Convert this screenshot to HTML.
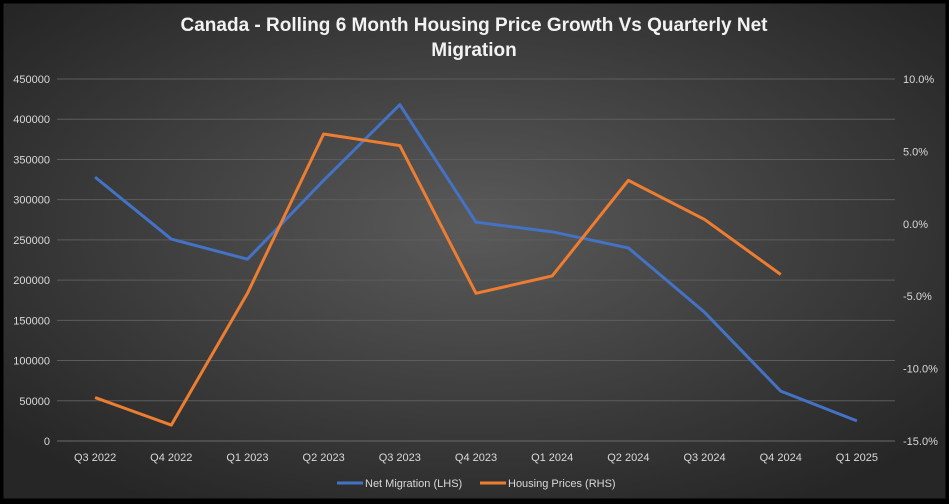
<!DOCTYPE html>
<html><head><meta charset="utf-8"><style>
html,body{margin:0;padding:0;background:#000;}
#wrap{width:949px;height:504px;position:relative;overflow:hidden;}
svg{display:block;font-family:"Liberation Sans",sans-serif;}
</style></head><body>
<div id="wrap">
<svg id="chart" width="949" height="504">
<defs>
<radialGradient id="bg" cx="50%" cy="45%" r="65%">
<stop offset="0%" stop-color="#5a5a5a"/><stop offset="100%" stop-color="#262626"/>
</radialGradient>
</defs>
<rect x="2" y="2" width="945" height="498" fill="url(#bg)" stroke="#000" stroke-width="3"/>
<text x="474" y="31" text-anchor="middle" fill="#f2f2f2" font-size="19" font-weight="bold">Canada - Rolling 6 Month Housing Price Growth Vs Quarterly Net</text>
<text x="474" y="56" text-anchor="middle" fill="#f2f2f2" font-size="19" font-weight="bold">Migration</text>
<g id="grid"></g><g id="axes"></g><g id="series"></g>
<g>
<line x1="337" y1="483" x2="363" y2="483" stroke="#4472c4" stroke-width="3"/>
<text x="365" y="487" fill="#d9d9d9" font-size="11">Net Migration (LHS)</text>
<line x1="480" y1="483" x2="506" y2="483" stroke="#ed7d31" stroke-width="3"/>
<text x="508" y="487" fill="#d9d9d9" font-size="11">Housing Prices (RHS)</text>
</g>
</svg>
</div>
<script>
const categories=["Q3 2022","Q4 2022","Q1 2023","Q2 2023","Q3 2023","Q4 2023","Q1 2024","Q2 2024","Q3 2024","Q4 2024","Q1 2025"];
const netMigration=[328000,251000,226000,324000,418000,272000,260000,240000,160000,62000,25000];
const housingPrices=[-12.0,-13.9,-4.8,6.2,5.4,-4.8,-3.6,3.0,0.3,-3.5];
const leftTicks=[0,50000,100000,150000,200000,250000,300000,350000,400000,450000];
const rightTicks=[-15,-10,-5,0,5,10];
const NS="http://www.w3.org/2000/svg";
const plotL=57,plotR=895,plotT=79,plotB=441;
const band=(plotR-plotL)/categories.length;
function xPos(i){return plotL+band*(i+0.5);}
function yL(v){return plotB-(v/450000)*(plotB-plotT);}
function yR(v){return plotB-((v+15)/25)*(plotB-plotT);}
function mk(tag,attrs,parent,txt){const e=document.createElementNS(NS,tag);for(const k in attrs)e.setAttribute(k,attrs[k]);if(txt!==undefined)e.textContent=txt;parent.appendChild(e);return e;}
const grid=document.getElementById('grid'),axes=document.getElementById('axes'),series=document.getElementById('series');
leftTicks.forEach(v=>{
 const g=mk('line',{x1:plotL,x2:plotR,y1:yL(v),y2:yL(v),stroke:v===0?'#6a6a6a':'#5c5c5c','stroke-width':1},grid);
 
 
 const t=mk('text',{x:50,y:yL(v)+4,'text-anchor':'end',fill:'#d9d9d9','font-size':11},axes,String(v));
 
 
});
rightTicks.forEach(v=>{
 const t=mk('text',{x:903,y:yR(v)+4,fill:'#d9d9d9','font-size':11},axes,v.toFixed(1)+'%');
 
 
});
categories.forEach((c,i)=>{
 const t=mk('text',{x:xPos(i),y:461,'text-anchor':'middle',fill:'#d9d9d9','font-size':11},axes,c);
 
 
});
const p1=mk('polyline',{points:netMigration.map((v,i)=>xPos(i)+','+yL(v)).join(' '),fill:'none',stroke:'#4472c4','stroke-width':3,'stroke-linejoin':'round'},series);


const p2=mk('polyline',{points:housingPrices.map((v,i)=>xPos(i)+','+yR(v)).join(' '),fill:'none',stroke:'#ed7d31','stroke-width':3,'stroke-linejoin':'round'},series);


</script>
</body></html>
